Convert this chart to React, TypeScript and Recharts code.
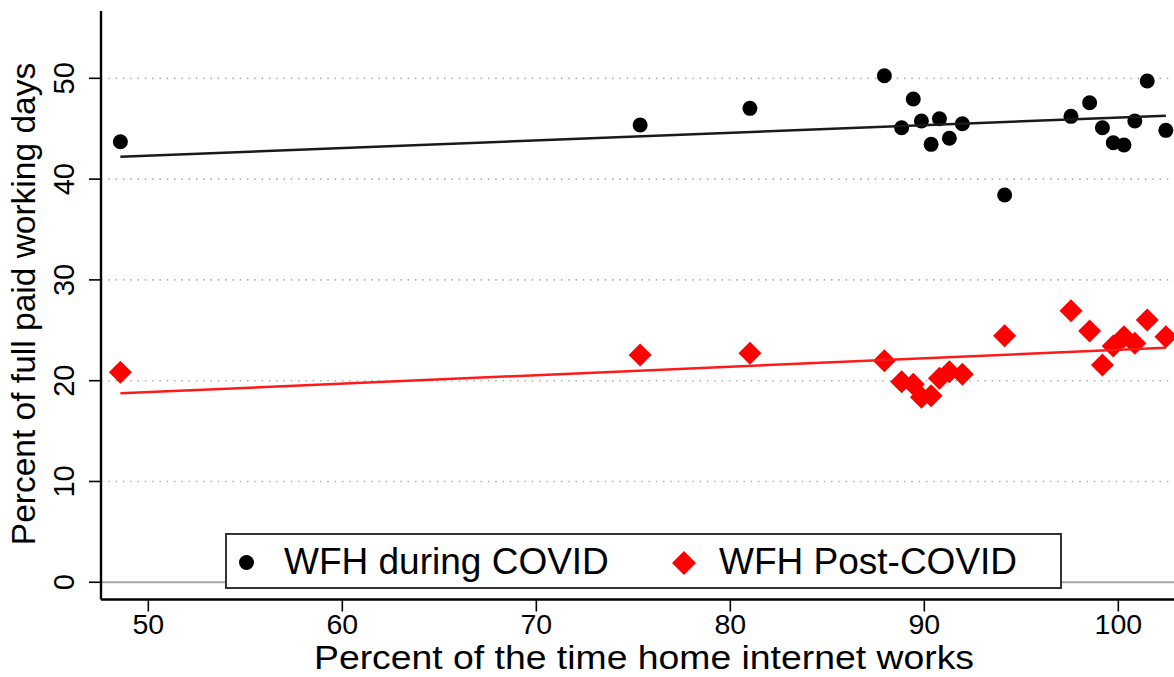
import {
  ScatterChart,
  Scatter,
  XAxis,
  YAxis,
  CartesianGrid,
  ReferenceLine,
  Legend,
} from "recharts";

// share of time home internet works (x), one value per country/group
const internetPct = [
  48.56, 75.35, 81.01, 87.94, 88.83, 89.43, 89.85, 90.35, 90.78, 91.29,
  91.96, 94.14, 97.56, 98.52, 99.18, 99.74, 100.29, 100.85, 101.49, 102.45,
];
const wfhDuring = [
  43.71, 45.37, 47.02, 50.26, 45.1, 47.95, 45.76, 43.45, 45.99, 44.05, 45.5,
  38.42, 46.23, 47.58, 45.1, 43.61, 43.38, 45.76, 49.73, 44.84,
];
const wfhPost = [
  20.83, 22.55, 22.72, 21.98, 19.9, 19.64, 18.35, 18.51, 20.24, 20.89, 20.63,
  24.46, 26.94, 24.93, 21.56, 23.44, 24.37, 23.71, 26.02, 24.37,
];

// linear fit end points
const fitX = [48.56, 102.45];
const fitDuring = [42.22, 46.29];
const fitPost = [18.75, 23.27];

const xTicks = [50, 60, 70, 80, 90, 100];
const yTicks = [0, 10, 20, 30, 40, 50];
const gridLines = [10, 20, 30, 40, 50];
const xDomain = [47.56, 102.87];
const yDomain = [-1.71, 56.68];

const FONT = "'Liberation Sans', Arial, Helvetica, sans-serif";

const duringData = internetPct.map((x, i) => ({ x, y: wfhDuring[i] }));
const postData = internetPct.map((x, i) => ({ x, y: wfhPost[i] }));
const fitDuringData = fitX.map((x, i) => ({ x, y: fitDuring[i] }));
const fitPostData = fitX.map((x, i) => ({ x, y: fitPost[i] }));

const Dot = (props: any) => (
  <circle cx={props.cx} cy={props.cy} r={7.5} fill="#000" />
);

const Diamond = (props: any) => {
  const { cx, cy } = props;
  const s = 11.5;
  return (
    <polygon
      points={`${cx},${cy - s} ${cx + s},${cy} ${cx},${cy + s} ${cx - s},${cy}`}
      fill="#ff0000"
    />
  );
};

const NoDot = () => <g />;

const XTick = (props: any) => (
  <text
    x={props.x}
    y={634}
    textAnchor="middle"
    fontSize={28.5}
    fontFamily={FONT}
    fill="#000"
  >
    {props.payload.value}
  </text>
);

const YTick = (props: any) => (
  <text
    x={74}
    y={props.y}
    transform={`rotate(-90, 74, ${props.y})`}
    textAnchor="middle"
    fontSize={29}
    fontFamily={FONT}
    fill="#000"
  >
    {props.payload.value}
  </text>
);

const LegendBox = () => (
  <div
    style={{
      boxSizing: "border-box",
      width: 837,
      height: 56,
      border: "2px solid #333",
      background: "#fff",
      fontFamily: FONT,
      fontSize: 37,
      color: "#000",
      position: "relative",
    }}
  >
    <span
      style={{
        position: "absolute",
        left: 12,
        top: 20,
        width: 15,
        height: 15,
        borderRadius: "50%",
        background: "#000",
      }}
    />
    <span style={{ position: "absolute", left: 57, top: 6 }}>
      WFH during COVID
    </span>
    <svg
      style={{ position: "absolute", left: 445, top: 16 }}
      width={24}
      height={24}
    >
      <polygon points="12,0 24,12 12,24 0,12" fill="#ff0000" />
    </svg>
    <span style={{ position: "absolute", left: 492, top: 6 }}>
      WFH Post-COVID
    </span>
  </div>
);

export default function App() {
  return (
    <div
      style={{
        position: "absolute",
        left: 0,
        top: 0,
        width: 1174,
        height: 677,
        overflow: "hidden",
        background: "#fff",
      }}
    >
      <ScatterChart
        width={1174}
        height={677}
        margin={{ top: 11, right: 0, bottom: 0, left: 0 }}
      >
        <CartesianGrid
          horizontal
          vertical={false}
          horizontalValues={gridLines}
          stroke="#b0b0b0"
          strokeWidth={1.6}
          strokeDasharray="1.5 5.8"
        />
        <XAxis
          xAxisId="top"
          orientation="top"
          dataKey="x"
          type="number"
          domain={xDomain}
          height={0}
          tick={false}
          tickLine={false}
          axisLine={{ stroke: "#555", strokeWidth: 2 }}
        />
        <XAxis
          dataKey="x"
          type="number"
          domain={xDomain}
          allowDataOverflow
          ticks={xTicks}
          interval={0}
          height={77.5}
          tickSize={12}
          tickLine={{ stroke: "#000", strokeWidth: 1.6 }}
          axisLine={{ stroke: "#000", strokeWidth: 2.4 }}
          tick={<XTick />}
          label={{
            content: () => (
              <text
                x={644}
                y={669}
                textAnchor="middle"
                fontSize={34}
                textLength={660}
                lengthAdjust="spacingAndGlyphs"
                fontFamily={FONT}
                fill="#000"
              >
                Percent of the time home internet works
              </text>
            ),
          }}
        />
        <YAxis
          dataKey="y"
          type="number"
          domain={yDomain}
          allowDataOverflow
          ticks={yTicks}
          interval={0}
          width={101}
          tickSize={12}
          tickLine={{ stroke: "#000", strokeWidth: 1.6 }}
          axisLine={{ stroke: "#000", strokeWidth: 2.4 }}
          tick={<YTick />}
          label={{
            content: () => (
              <text
                x={35}
                y={304}
                transform="rotate(-90, 35, 304)"
                textAnchor="middle"
                fontSize={33.5}
                fontFamily={FONT}
                fill="#000"
              >
                Percent of full paid working days
              </text>
            ),
          }}
        />
        <ReferenceLine y={0} stroke="#a8a8a8" strokeWidth={2} />
        <Scatter
          name="WFH during COVID"
          data={duringData}
          shape={<Dot />}
          isAnimationActive={false}
        />
        <Scatter
          name="WFH Post-COVID"
          data={postData}
          shape={<Diamond />}
          isAnimationActive={false}
        />
        <Scatter
          data={fitDuringData}
          line={{ stroke: "#1a1a1a", strokeWidth: 2.5 }}
          shape={<NoDot />}
          legendType="none"
          isAnimationActive={false}
        />
        <Scatter
          data={fitPostData}
          line={{ stroke: "#ff1a1a", strokeWidth: 2.5 }}
          shape={<NoDot />}
          legendType="none"
          isAnimationActive={false}
        />
        <Legend
          layout="horizontal"
          verticalAlign="middle"
          align="center"
          content={() => <LegendBox />}
          wrapperStyle={{ left: 225, top: 533, width: 837, height: 56 }}
        />
      </ScatterChart>
    </div>
  );
}
